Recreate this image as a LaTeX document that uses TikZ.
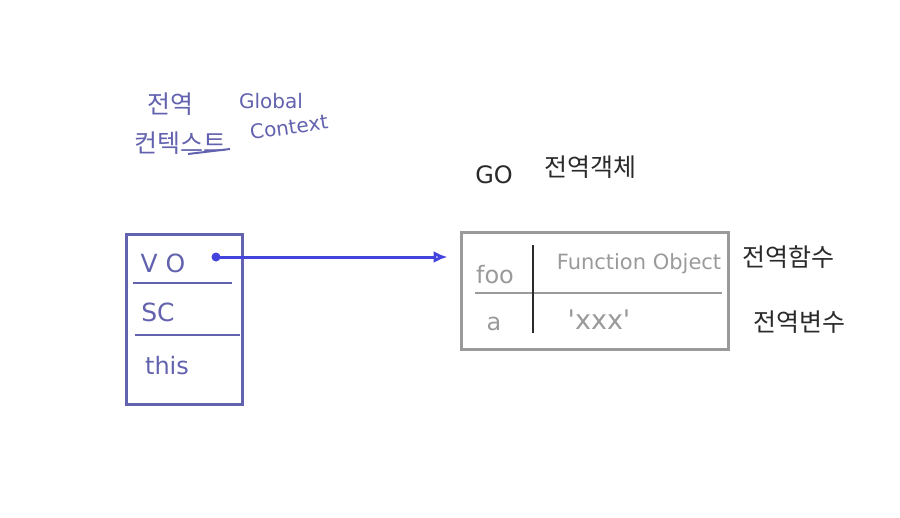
\documentclass[tikz,border=0pt]{standalone}
\usepackage{fontspec}
\setmainfont{DejaVu Sans}
\newfontfamily\kr{Noto Sans CJK KR}
\usetikzlibrary{arrows.meta}
\definecolor{ink}{HTML}{6262AE}
\definecolor{pen}{HTML}{4343DD}
\definecolor{lead}{HTML}{9A9A9A}
\definecolor{dark}{HTML}{2A2A2A}
\tikzset{
  hand/.style={font=\fontsize{21}{24}\selectfont, inner sep=0pt},
  note/.style={hand, font=\kr\fontsize{25}{28}\selectfont}
}
\begin{document}
\begin{tikzpicture}[x=1pt, y=-1pt]
    \useasboundingbox (0,0) rectangle (900,517);
    % execution context
    \node[draw=ink, line width=3pt, minimum width=116pt, minimum height=170pt, inner sep=0pt] (ctx) at (184,319) {};
    \draw[ink, line width=2.6pt] (133,283) -- (232,283);
    \draw[ink, line width=2.6pt] (135,335) -- (240,335);
    \node[hand, text=ink, font=\fontsize{25}{28}\selectfont] (vo) at (163,263) {V O};
    \node[hand, text=ink, font=\fontsize{25}{28}\selectfont] (sc) at (158,312) {SC};
    \node[hand, text=ink, font=\fontsize{24}{26}\selectfont] (this) at (167,366) {this};
    \node[note, text=ink] (ko1) at (170,104) {전역};
    \node[note, text=ink] (ko2) at (180,143) {컨텍스트};
    \draw[ink, line width=2pt] (188,154) -- (230,149);
    \node[hand, text=ink, font=\fontsize{20}{22}\selectfont] (gl) at (271,101) {Global};
    \node[hand, text=ink, font=\fontsize{20}{22}\selectfont, rotate=8] (ct) at (289,127) {Context};
    % global object
    \node[draw=lead, line width=3pt, minimum width=267pt, minimum height=117pt, inner sep=0pt] (go) at (594.5,290.5) {};
    \draw[lead, line width=2.6pt] (475,293) -- (722,293);
    \draw[dark, line width=2.8pt] (533,245) -- (533,333);
    \node[hand, text=lead, font=\fontsize{24}{26}\selectfont] (foo) at (495,275) {foo};
    \node[hand, text=lead, font=\fontsize{24}{26}\selectfont] (a) at (494,324) {a};
    \node[hand, text=lead] (fn) at (639,264) {Function Object};
    \node[hand, text=lead, font=\fontsize{27}{30}\selectfont] (str) at (599,320) {\textquotesingle xxx\textquotesingle};
    \node[hand, text=dark, font=\fontsize{24}{26}\selectfont] (goname) at (494,175) {GO};
    \node[note, text=dark] (gobj) at (590,167) {전역객체};
    \node[note, text=dark] (gfun) at (788,257) {전역함수};
    \node[note, text=dark] (gvar) at (799,322) {전역변수};
    % reference
    \coordinate (dot) at (216,257);
    \fill[pen] (dot) circle (4.5pt);
    \draw[pen, line width=3pt, shorten >=12pt, -{Latex[open, length=14pt, width=12pt]}] (dot) -- (dot -| go.west);
\end{tikzpicture}
\end{document}
